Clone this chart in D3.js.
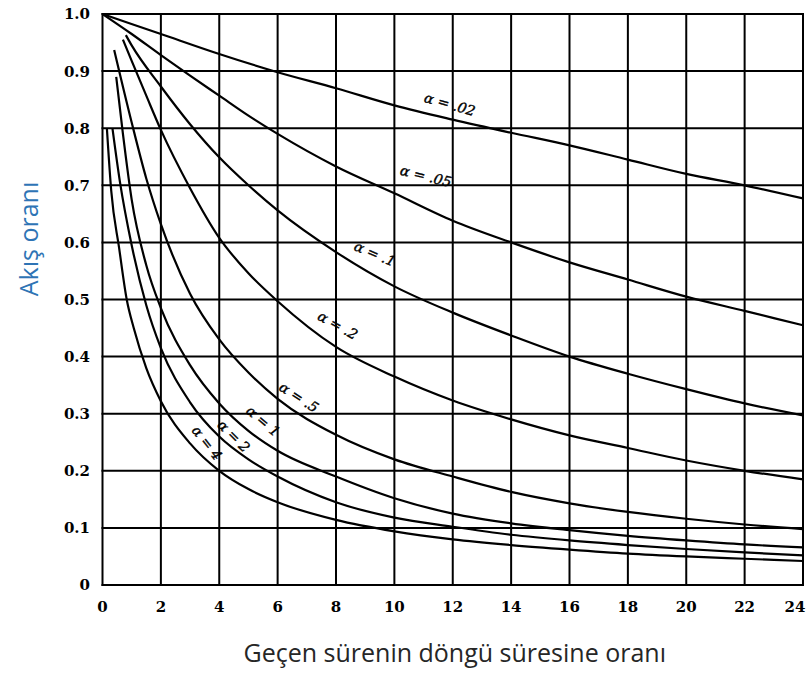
<!DOCTYPE html>
<html>
<head>
<meta charset="utf-8">
<script src="https://cdn.jsdelivr.net/npm/d3@7"></script>
<style>
  body { margin: 0; background: #fff; }
  svg { display: block; }
</style>
</head>
<body>
<svg id="chart" width="807" height="677"></svg>
<script>
// Axis ticks
const xTicks = [0, 2, 4, 6, 8, 10, 12, 14, 16, 18, 20, 22, 24];
const yTicks = [0, 0.1, 0.2, 0.3, 0.4, 0.5, 0.6, 0.7, 0.8, 0.9, 1.0];
const yTickLabels = ["0", "0.1", "0.2", "0.3", "0.4", "0.5", "0.6", "0.7", "0.8", "0.9", "1.0"];

// Flow ratio curves, one per α, as [time ratio, flow ratio]
const alpha002 = [[0,1.0],[2,0.965],[4,0.93],[6,0.898],[8,0.87],[10,0.84],[12,0.815],[14,0.792],[16,0.77],[18,0.745],[20,0.72],[22,0.70],[24,0.677]];
const alpha005 = [[0,1.0],[1,0.965],[2,0.928],[3,0.892],[4,0.857],[5,0.822],[6,0.79],[8,0.733],[10,0.686],[12,0.638],[14,0.60],[16,0.565],[18,0.535],[20,0.505],[22,0.48],[24,0.455]];
const alpha01  = [[0.8,0.963],[1,0.945],[2,0.873],[3,0.807],[4,0.749],[5,0.70],[6,0.656],[8,0.583],[10,0.523],[12,0.477],[14,0.437],[16,0.40],[18,0.37],[20,0.343],[22,0.318],[24,0.297]];
const alpha02  = [[0.7,0.955],[1,0.918],[1.5,0.857],[2,0.797],[3,0.695],[4,0.608],[5,0.546],[6,0.497],[8,0.417],[10,0.365],[12,0.323],[14,0.29],[16,0.262],[18,0.24],[20,0.218],[22,0.2],[24,0.185]];
const alpha05  = [[0.4,0.937],[1,0.81],[1.5,0.712],[2,0.632],[3,0.51],[4,0.43],[5,0.372],[6,0.326],[8,0.263],[10,0.22],[12,0.19],[14,0.163],[16,0.143],[18,0.128],[20,0.116],[22,0.106],[24,0.098]];
const alpha1   = [[0.47,0.89],[0.7,0.79],[1,0.675],[1.5,0.56],[2,0.485],[3,0.385],[4,0.318],[5,0.27],[6,0.235],[8,0.19],[10,0.152],[12,0.125],[14,0.108],[16,0.096],[18,0.086],[20,0.078],[22,0.071],[24,0.066]];
const alpha2   = [[0.34,0.80],[0.6,0.705],[1,0.595],[1.5,0.49],[2,0.415],[3,0.32],[4,0.26],[5,0.22],[6,0.19],[8,0.145],[10,0.118],[12,0.102],[14,0.088],[16,0.078],[18,0.07],[20,0.063],[22,0.057],[24,0.052]];
const alpha4   = [[0.15,0.80],[0.3,0.69],[0.57,0.59],[0.83,0.50],[1.07,0.45],[1.5,0.38],[2,0.322],[3,0.248],[4,0.20],[5,0.168],[6,0.145],[8,0.114],[10,0.094],[12,0.08],[14,0.07],[16,0.062],[18,0.055],[20,0.05],[22,0.046],[24,0.042]];

const curves = [alpha002, alpha005, alpha01, alpha02, alpha05, alpha1, alpha2, alpha4];

// Curve annotations: text, anchor in data units, tilt in degrees
const alphaLabels = ["α = .02", "α = .05", "α = .1", "α = .2", "α = .5", "α = 1", "α = 2", "α = 4"];
const labelX = [11.9, 11.08, 9.33, 8.06, 6.73, 5.5, 4.5, 3.58];
const labelY = [0.842, 0.716, 0.58, 0.455, 0.329, 0.287, 0.261, 0.249];
const labelTilt = [16, 14, 23, 29, 33, 40, 45, 52];

const svg = d3.select("#chart");
const plotLeft = 102.5, plotRight = 803, plotTop = 14, plotBottom = 585;
const width = 807;

const x = d3.scaleLinear().domain([0, 24]).range([plotLeft, plotRight]);
const y = d3.scaleLinear().domain([0, 1]).range([plotBottom, plotTop]);

// Grid
const grid = svg.append("g").attr("stroke", "#000").attr("stroke-width", 2);
grid.selectAll("line.v").data(xTicks).join("line")
  .attr("class", "v")
  .attr("x1", d => x(d)).attr("x2", d => x(d))
  .attr("y1", y(0) + 1).attr("y2", y(1) - 1);
grid.selectAll("line.h").data(yTicks).join("line")
  .attr("class", "h")
  .attr("x1", x(0) - 1).attr("x2", x(24) + 1)
  .attr("y1", d => y(d)).attr("y2", d => y(d));

// Tick labels
const tickFont = "'DejaVu Serif', serif";
svg.append("g").selectAll("text").data(xTicks).join("text")
  .attr("x", d => Math.min(x(d), width - 12)).attr("y", 612)
  .attr("text-anchor", "middle")
  .attr("font-family", tickFont).attr("font-weight", "bold").attr("font-size", 15)
  .text(d => d);
svg.append("g").selectAll("text").data(yTicks).join("text")
  .attr("x", 90).attr("y", d => y(d))
  .attr("dy", "0.36em")
  .attr("text-anchor", "end")
  .attr("font-family", tickFont).attr("font-weight", "bold").attr("font-size", 15)
  .text((d, i) => yTickLabels[i]);

// Curves
const line = d3.line().x(d => x(d[0])).y(d => y(d[1])).curve(d3.curveMonotoneX);
svg.append("g").selectAll("path").data(curves).join("path")
  .attr("d", line)
  .attr("fill", "none").attr("stroke", "#000").attr("stroke-width", 2.2)
  .attr("stroke-linejoin", "round");

// Curve labels
svg.append("g").selectAll("text").data(alphaLabels).join("text")
  .attr("transform", (d, i) => `translate(${x(labelX[i])},${y(labelY[i])}) rotate(${labelTilt[i]})`)
  .attr("dy", "0.35em")
  .attr("text-anchor", "middle")
  .attr("font-family", tickFont).attr("font-style", "italic").attr("font-size", 14)
  .attr("fill", "#000").attr("stroke", "#000").attr("stroke-width", 0.4)
  .text(d => d);

// Axis titles
svg.append("text")
  .attr("x", (plotLeft + plotRight) / 2 + 2).attr("y", 662)
  .attr("text-anchor", "middle")
  .attr("font-family", "'Open Sans', sans-serif").attr("font-size", 25)
  .attr("fill", "#262626")
  .text("Geçen sürenin döngü süresine oranı");
svg.append("text")
  .attr("transform", "translate(38,239) rotate(-90)")
  .attr("text-anchor", "middle")
  .attr("font-family", "'Open Sans', sans-serif").attr("font-size", 25)
  .attr("fill", "#2E74B5")
  .text("Akış oranı");
</script>
</body>
</html>
